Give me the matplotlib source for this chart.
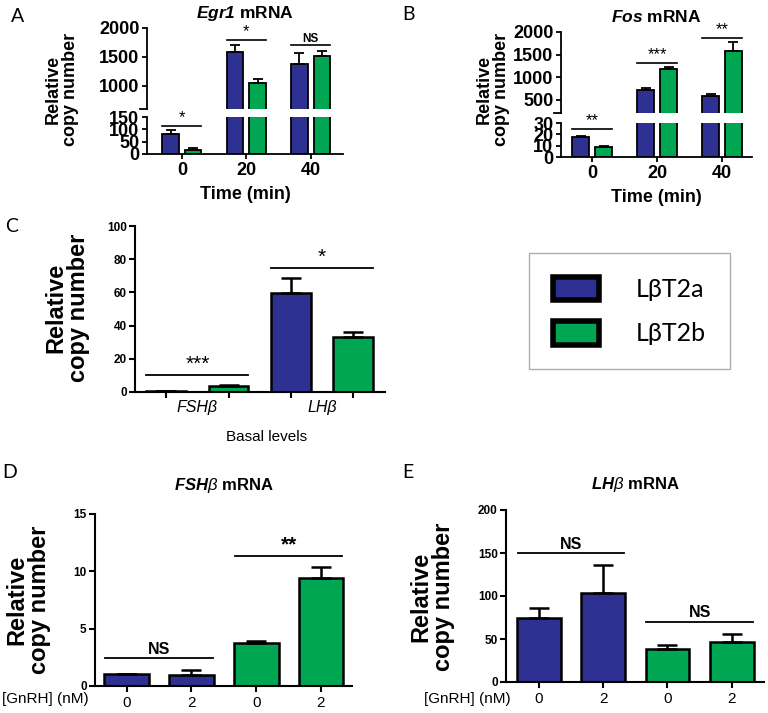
import matplotlib
matplotlib.use('Agg')
import matplotlib.pyplot as plt
import numpy as np
from matplotlib.patches import Patch
import matplotlib.transforms as mtrans

plt.rcParams['font.family'] = ['Liberation Sans', 'DejaVu Sans']
plt.rcParams['mathtext.fontset'] = 'custom'
plt.rcParams['mathtext.rm'] = 'Liberation Sans'
plt.rcParams['mathtext.it'] = 'Liberation Sans:italic'
plt.rcParams['mathtext.bf'] = 'Liberation Sans:bold'
plt.rcParams['mathtext.bfit'] = 'Liberation Sans:bold:italic'

BLUE = '#2e3192'
GREEN = '#00a651'

# ---------------- data ----------------
time_labels = ['0', '20', '40']

egr1_a = [80, 1585, 1380]
egr1_a_err = [18, 115, 190]
egr1_b = [18, 1050, 1510]
egr1_b_err = [5, 60, 90]
egr1_sig = ['*', '*', 'NS']

fos_a = [17.4, 722, 574]
fos_a_err = [1.3, 37, 55]
fos_b = [8.5, 1170, 1570]
fos_b_err = [1.3, 50, 205]
fos_sig = ['**', '***', '**']

basal_labels = ['FSHβ', 'LHβ']
basal_a = [0.8, 59.5]
basal_a_err = [0.1, 9.0]
basal_b = [3.6, 33.2]
basal_b_err = [0.4, 2.8]
basal_sig = ['***', '*']

gnrh_labels = ['0', '2', '0', '2']
fsh_vals = [1.05, 0.99, 3.79, 9.38]
fsh_err = [0.0, 0.44, 0.17, 0.96]
fsh_sig = ['NS', '**']

lh_vals = [75, 103.7, 38.8, 46.2]
lh_err = [11.6, 32.2, 4.7, 10.1]
lh_sig = ['NS', 'NS']

legend_labels = ['LβT2a', 'LβT2b']

W, H = 768, 713
fig = plt.figure(figsize=(W / 100, H / 100), dpi=100)


def rect(x0, y0, x1, y1):
    """pixel box (top-left origin) -> figure fraction"""
    return [x0 / W, 1 - y1 / H, (x1 - x0) / W, (y1 - y0) / H]


def style_axis(ax, lw=1.3, ticklen=3.5, labelsize=13, bold=True):
    for s in ['top', 'right']:
        ax.spines[s].set_visible(False)
    for s in ['left', 'bottom']:
        ax.spines[s].set_linewidth(lw)
    ax.tick_params(width=lw, length=ticklen, labelsize=labelsize, pad=2)
    if bold:
        for lab in ax.get_yticklabels() + ax.get_xticklabels():
            lab.set_fontweight('bold')


def err_up(ax, x, vals, errs, capsize, lw):
    ax.errorbar(x, vals, yerr=[np.zeros(len(vals)), errs], fmt='none',
                ecolor='black', elinewidth=lw, capsize=capsize, capthick=lw)


# ---------------- broken-axis panels A and B ----------------
def broken_panel(top_box, bot_box, a, a_err, b, b_err, sig, top_lim, bot_lim,
                 top_ticks, bot_ticks, xlim, title, sig_off_top, sig_off_bot,
                 star_size, ns_size):
    ax_t = fig.add_axes(rect(*top_box))
    ax_b = fig.add_axes(rect(*bot_box))
    x = np.arange(len(a))
    off, w = 0.175, 0.26
    for ax in (ax_t, ax_b):
        ax.bar(x - off, a, w, color=BLUE, edgecolor='black', linewidth=1.3)
        ax.bar(x + off, b, w, color=GREEN, edgecolor='black', linewidth=1.3)
        err_up(ax, x - off, a, a_err, 3.8, 1.3)
        err_up(ax, x + off, b, b_err, 3.8, 1.3)
        ax.set_xlim(*xlim)
    ax_t.set_ylim(*top_lim)
    ax_b.set_ylim(*bot_lim)
    ax_t.set_yticks(top_ticks)
    ax_b.set_yticks(bot_ticks)
    ax_b.set_xticks(x)
    ax_b.set_xticklabels(time_labels)
    ax_t.set_xticks([])
    style_axis(ax_t)
    style_axis(ax_b)
    ax_t.spines['bottom'].set_visible(False)
    ax_t.plot([-0.035, 0], [0, 0], transform=ax_t.transAxes, color='black',
              lw=1.3, clip_on=False)
    ax_b.set_xlabel('Time (min)', fontsize=13, fontweight='bold', labelpad=5)
    ax_t.set_title(title, fontsize=12.5, fontweight='bold', pad=7)
    # significance bars
    for i in range(len(a)):
        top = max(a[i] + a_err[i], b[i] + b_err[i])
        if top > bot_lim[1]:
            ax, y = ax_t, top + sig_off_top
        else:
            ax, y = ax_b, top + sig_off_bot
        x0, x1 = i - off - w / 2, i + off + w / 2
        ax.plot([x0, x1], [y, y], color='black', lw=1.2, clip_on=False)
        fs = ns_size if sig[i] == 'NS' else star_size
        ax.annotate(sig[i], (i, y), xytext=(0, 0.5), textcoords='offset points',
                    ha='center', va='bottom', fontsize=fs,
                    fontweight='bold' if sig[i] == 'NS' else 'normal',
                    annotation_clip=False)
    return ax_t, ax_b


broken_panel((147, 28, 343, 109), (147, 117, 343, 154), egr1_a, egr1_a_err,
             egr1_b, egr1_b_err, egr1_sig, (600, 2000), (0, 150),
             [1000, 1500, 2000], [0, 50, 100, 150], (-0.54, 2.50),
             r'$\mathbfit{Egr1}$ mRNA', 100, 15, 12, 8.5)
broken_panel((561, 32, 752, 113), (561, 123, 752, 157), fos_a, fos_a_err,
             fos_b, fos_b_err, fos_sig, (200, 2000), (0, 30),
             [500, 1000, 1500, 2000], [0, 10, 20, 30], (-0.48, 2.46),
             r'$\mathbfit{Fos}$ mRNA', 95, 6, 12, 8.5)

# y labels for A, B
fig.text(62 / W, 1 - 89 / H, 'Relative\ncopy number', rotation=90, ha='center',
         va='center', fontsize=13, fontweight='bold', multialignment='center',
         linespacing=1.0)
fig.text(493 / W, 1 - 89 / H, 'Relative\ncopy number', rotation=90, ha='center',
         va='center', fontsize=13, fontweight='bold', multialignment='center',
         linespacing=1.0)


# ---------------- grouped panels C, D, E ----------------
def simple_panel(box, vals, errs, colors, ylim, yticks, xlim, width, capsize):
    ax = fig.add_axes(rect(*box))
    x = np.arange(len(vals))
    ax.bar(x, vals, width, color=colors, edgecolor='black', linewidth=1.8)
    err_up(ax, x, vals, errs, capsize, 1.8)
    ax.set_xlim(*xlim)
    ax.set_ylim(*ylim)
    ax.set_yticks(yticks)
    ax.set_xticks(x)
    style_axis(ax, lw=1.5, ticklen=4, labelsize=8.5)
    return ax, x


def sig_bar(ax, x0, x1, y, label, fs, bold):
    ax.plot([x0, x1], [y, y], color='black', lw=1.3, clip_on=False)
    ax.annotate(label, ((x0 + x1) / 2, y), xytext=(0, 1), textcoords='offset points',
                ha='center', va='bottom', fontsize=fs,
                fontweight='bold' if bold else 'normal', annotation_clip=False)


# Panel C
c_vals = [basal_a[0], basal_b[0], basal_a[1], basal_b[1]]
c_errs = [basal_a_err[0], basal_b_err[0], basal_a_err[1], basal_b_err[1]]
c_cols = [BLUE, GREEN, BLUE, GREEN]
axC, xc = simple_panel((135, 226, 385, 392), c_vals, c_errs, c_cols, (0, 100),
                       [0, 20, 40, 60, 80, 100], (-0.5, 3.51), 0.64, 7)
axC.set_xticklabels([])
trans = mtrans.blended_transform_factory(axC.transData, axC.transAxes)
for g, lab in enumerate(basal_labels):
    axC.text(2 * g + 0.5, -0.05, lab, transform=trans, ha='center', va='top',
             fontsize=11.5, style='italic')
    top = max(c_vals[2 * g] + c_errs[2 * g], c_vals[2 * g + 1] + c_errs[2 * g + 1])
    sig_bar(axC, 2 * g - 0.32, 2 * g + 1.32, top + 6, basal_sig[g], 15, False)
fig.text(267 / W, 1 - 437 / H, 'Basal levels', ha='center', va='center', fontsize=11)
fig.text(67 / W, 1 - 308 / H, 'Relative\ncopy number', rotation=90, ha='center',
         va='center', fontsize=17, fontweight='bold', multialignment='center',
         linespacing=1.0)

# Panel D
axD, xd = simple_panel((95, 514, 352, 686), fsh_vals, fsh_err,
                       [BLUE, BLUE, GREEN, GREEN], (0, 15), [0, 5, 10, 15],
                       (-0.49, 3.48), 0.69, 7)
axD.set_xticklabels(gnrh_labels, fontsize=11, fontweight='normal')
axD.tick_params(axis='x', pad=3)
for g in range(2):
    top = max(fsh_vals[2 * g] + fsh_err[2 * g], fsh_vals[2 * g + 1] + fsh_err[2 * g + 1])
    sig_bar(axD, 2 * g - 0.33, 2 * g + 1.33, top + 1.0, fsh_sig[g],
            11.5 if fsh_sig[g] == 'NS' else 15, True)
axD.set_title(r'$\mathbfit{FSH}\mathit{β}$ mRNA', fontsize=12, fontweight='bold',
              pad=17)
fig.text(28 / W, 1 - 600 / H, 'Relative\ncopy number', rotation=90, ha='center',
         va='center', fontsize=17, fontweight='bold', multialignment='center',
         linespacing=1.0)
fig.text(2 / W, 1 - 699 / H, '[GnRH] (nM)', ha='left', va='center', fontsize=11)

# Panel E
axE, xe = simple_panel((506, 510, 764, 682), lh_vals, lh_err,
                       [BLUE, BLUE, GREEN, GREEN], (0, 200), [0, 50, 100, 150, 200],
                       (-0.51, 3.5), 0.68, 7)
axE.set_xticklabels(gnrh_labels, fontsize=11, fontweight='normal')
axE.tick_params(axis='x', pad=3)
for g in range(2):
    top = max(lh_vals[2 * g] + lh_err[2 * g], lh_vals[2 * g + 1] + lh_err[2 * g + 1])
    sig_bar(axE, 2 * g - 0.33, 2 * g + 1.33, top + 14, lh_sig[g], 11.5, True)
axE.set_title(r'$\mathbfit{LH}\mathit{β}$ mRNA', fontsize=12, fontweight='bold',
              pad=15)
fig.text(432 / W, 1 - 597 / H, 'Relative\ncopy number', rotation=90, ha='center',
         va='center', fontsize=17, fontweight='bold', multialignment='center',
         linespacing=1.0)
fig.text(424 / W, 1 - 699 / H, '[GnRH] (nM)', ha='left', va='center', fontsize=11)

# ---------------- legend ----------------
handles = [Patch(facecolor=BLUE, edgecolor='black', linewidth=4, joinstyle='round'),
           Patch(facecolor=GREEN, edgecolor='black', linewidth=4, joinstyle='round')]
leg = fig.legend(handles, legend_labels, loc='upper left',
                 bbox_to_anchor=(529 / W, 1 - 253 / H),
                 prop={'family': 'Lato', 'size': 18}, frameon=True, fancybox=False,
                 handlelength=1.84, handleheight=1.08, handletextpad=1.5,
                 labelspacing=0.8, borderpad=0.95, borderaxespad=0)
leg.get_frame().set_edgecolor('#999999')
leg.get_frame().set_linewidth(1.0)

# ---------------- panel letters ----------------
for letter, (px, py) in {'A': (18, 17), 'B': (408, 15), 'C': (12, 226),
                         'D': (10, 472), 'E': (408, 472)}.items():
    fig.text(px / W, 1 - py / H, letter, ha='center', va='center',
             fontsize=14, family=['Lato', 'DejaVu Sans'])

fig.savefig('out.png', dpi=100)
